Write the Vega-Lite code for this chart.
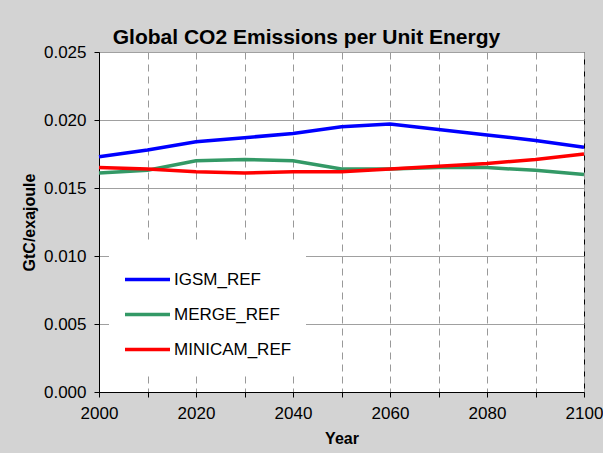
{
  "$schema": "https://vega.github.io/schema/vega-lite/v6.json",
  "autosize": {"type": "none"},
  "width": 485,
  "height": 340,
  "padding": {"left": 99, "top": 52, "right": 19, "bottom": 61},
  "background": "#d3d3d3",
  "title": {
    "text": "Global CO2 Emissions per Unit Energy",
    "font": "Liberation Sans",
    "fontSize": 21,
    "fontWeight": "bold",
    "color": "#000000",
    "anchor": "middle",
    "dx": -35,
    "offset": -5
  },
  "config": {
    "font": "Liberation Sans",
    "view": {"stroke": "#000000", "strokeWidth": 1, "fill": "#ffffff"}
  },
  "data": {
    "values": [
      {"Year": 2000, "Model": "IGSM_REF", "Value": 0.0173},
      {"Year": 2010, "Model": "IGSM_REF", "Value": 0.0178},
      {"Year": 2020, "Model": "IGSM_REF", "Value": 0.0184},
      {"Year": 2030, "Model": "IGSM_REF", "Value": 0.0187},
      {"Year": 2040, "Model": "IGSM_REF", "Value": 0.0190},
      {"Year": 2050, "Model": "IGSM_REF", "Value": 0.0195},
      {"Year": 2060, "Model": "IGSM_REF", "Value": 0.0197},
      {"Year": 2070, "Model": "IGSM_REF", "Value": 0.0193},
      {"Year": 2080, "Model": "IGSM_REF", "Value": 0.0189},
      {"Year": 2090, "Model": "IGSM_REF", "Value": 0.0185},
      {"Year": 2100, "Model": "IGSM_REF", "Value": 0.0180},
      {"Year": 2000, "Model": "MERGE_REF", "Value": 0.0161},
      {"Year": 2010, "Model": "MERGE_REF", "Value": 0.0163},
      {"Year": 2020, "Model": "MERGE_REF", "Value": 0.0170},
      {"Year": 2030, "Model": "MERGE_REF", "Value": 0.0171},
      {"Year": 2040, "Model": "MERGE_REF", "Value": 0.0170},
      {"Year": 2050, "Model": "MERGE_REF", "Value": 0.0164},
      {"Year": 2060, "Model": "MERGE_REF", "Value": 0.0164},
      {"Year": 2070, "Model": "MERGE_REF", "Value": 0.0165},
      {"Year": 2080, "Model": "MERGE_REF", "Value": 0.0165},
      {"Year": 2090, "Model": "MERGE_REF", "Value": 0.0163},
      {"Year": 2100, "Model": "MERGE_REF", "Value": 0.0160},
      {"Year": 2000, "Model": "MINICAM_REF", "Value": 0.0165},
      {"Year": 2010, "Model": "MINICAM_REF", "Value": 0.0164},
      {"Year": 2020, "Model": "MINICAM_REF", "Value": 0.0162},
      {"Year": 2030, "Model": "MINICAM_REF", "Value": 0.0161},
      {"Year": 2040, "Model": "MINICAM_REF", "Value": 0.0162},
      {"Year": 2050, "Model": "MINICAM_REF", "Value": 0.0162},
      {"Year": 2060, "Model": "MINICAM_REF", "Value": 0.0164},
      {"Year": 2070, "Model": "MINICAM_REF", "Value": 0.0166},
      {"Year": 2080, "Model": "MINICAM_REF", "Value": 0.0168},
      {"Year": 2090, "Model": "MINICAM_REF", "Value": 0.0171},
      {"Year": 2100, "Model": "MINICAM_REF", "Value": 0.0175}
    ]
  },
  "mark": {"type": "line", "strokeWidth": 3.5, "clip": false},
  "encoding": {
    "x": {
      "field": "Year",
      "type": "quantitative",
      "scale": {"domain": [2000, 2100], "nice": false, "zero": false},
      "axis": {
        "title": "Year",
        "titleFontSize": 16,
        "titleFontWeight": "bold",
        "titleColor": "#000000",
        "titlePadding": 9,
        "values": [2000, 2010, 2020, 2030, 2040, 2050, 2060, 2070, 2080, 2090, 2100],
        "format": "d",
        "labelExpr": "datum.value % 20 == 0 ? datum.label : ''",
        "labelFontSize": 17,
        "labelColor": "#000000",
        "labelPadding": 8,
        "labelFlush": false,
        "tickSize": 5,
        "tickColor": "#000000",
        "domainColor": "#000000",
        "grid": true,
        "gridColor": "#999999",
        "gridDash": [7, 5],
        "gridWidth": 1
      }
    },
    "y": {
      "field": "Value",
      "type": "quantitative",
      "scale": {"domain": [0, 0.025], "nice": false},
      "axis": {
        "title": "GtC/exajoule",
        "titleFontSize": 16,
        "titleFontWeight": "bold",
        "titleColor": "#000000",
        "titlePadding": 6,
        "values": [0, 0.005, 0.01, 0.015, 0.02, 0.025],
        "format": ".3f",
        "labelFontSize": 17,
        "labelColor": "#000000",
        "labelPadding": 8,
        "labelFlush": false,
        "tickSize": 5,
        "tickColor": "#000000",
        "domainColor": "#000000",
        "grid": true,
        "gridColor": "#a0a0a0",
        "gridWidth": 1
      }
    },
    "color": {
      "field": "Model",
      "type": "nominal",
      "scale": {
        "domain": ["IGSM_REF", "MERGE_REF", "MINICAM_REF"],
        "range": ["#0000ff", "#339966", "#ff0000"]
      },
      "legend": {
        "title": null,
        "orient": "none",
        "legendX": 10,
        "legendY": 189,
        "fillColor": "#ffffff",
        "padding": 14,
        "symbolType": "stroke",
        "symbolSize": 2025,
        "symbolStrokeWidth": 3.5,
        "labelFontSize": 17,
        "labelColor": "#000000",
        "labelOffset": 2,
        "rowPadding": 2
      }
    }
  }
}
